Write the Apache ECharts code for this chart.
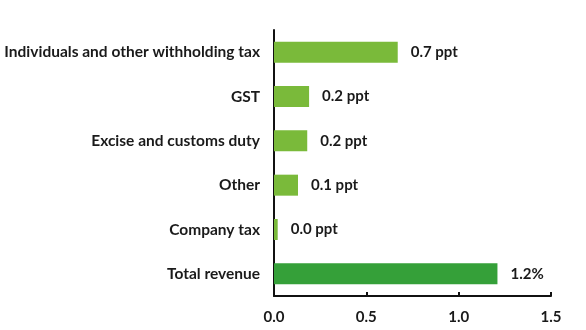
<!DOCTYPE html>
<html>
<head>
<meta charset="utf-8">
<script src="https://cdn.jsdelivr.net/npm/echarts@6/dist/echarts.min.js"></script>
<style>
  html, body { margin: 0; padding: 0; background: #fff; }
  #chart { width: 586px; height: 330px; }
</style>
</head>
<body>
<div id="chart"></div>
<script>
// Contribution to revenue growth, by source (top to bottom)
var categories = [
  'Individuals and other withholding tax',
  'GST',
  'Excise and customs duty',
  'Other',
  'Company tax',
  'Total revenue'
];
var contributions = [0.67, 0.19, 0.18, 0.13, 0.02, 1.21];
var labelUnits = [' ppt', ' ppt', ' ppt', ' ppt', ' ppt', '%'];
var xTicks = [0.0, 0.5, 1.0, 1.5];

var lightGreen = '#7aba3a';
var darkGreen = '#35a039';
var textFont = 'Lato';

var chart = echarts.init(document.getElementById('chart'), null, { renderer: 'canvas' });

var barData = contributions.map(function (v, i) {
  return {
    value: v,
    itemStyle: { color: i === categories.length - 1 ? darkGreen : lightGreen }
  };
});

chart.setOption({
  animation: false,
  grid: { left: 274, right: 35, top: 30, bottom: 34, containLabel: false },
  xAxis: {
    type: 'value',
    min: xTicks[0],
    max: xTicks[xTicks.length - 1],
    interval: xTicks[1] - xTicks[0],
    axisLine: { show: true, lineStyle: { color: '#111', width: 2 } },
    axisTick: { show: true, inside: true, length: 4, lineStyle: { color: '#111', width: 2 } },
    splitLine: { show: false },
    axisLabel: {
      margin: 14,
      color: '#1a1a1a',
      fontFamily: textFont,
      fontWeight: 'bold',
      fontSize: 15,
      formatter: function (v) { return v.toFixed(1); }
    }
  },
  yAxis: {
    type: 'category',
    data: categories,
    inverse: true,
    axisLine: { show: true, lineStyle: { color: '#111', width: 2 } },
    axisTick: { show: false },
    axisLabel: {
      margin: 14,
      color: '#1a1a1a',
      fontFamily: textFont,
      fontWeight: 'bold',
      fontSize: 15.5
    }
  },
  series: [{
    type: 'bar',
    data: barData,
    barWidth: 21,
    label: {
      show: true,
      position: 'right',
      distance: 13,
      color: '#1a1a1a',
      fontFamily: textFont,
      fontWeight: 'bold',
      fontSize: 15,
      formatter: function (p) {
        return p.value.toFixed(1) + labelUnits[p.dataIndex];
      }
    }
  }]
});
</script>
</body>
</html>
